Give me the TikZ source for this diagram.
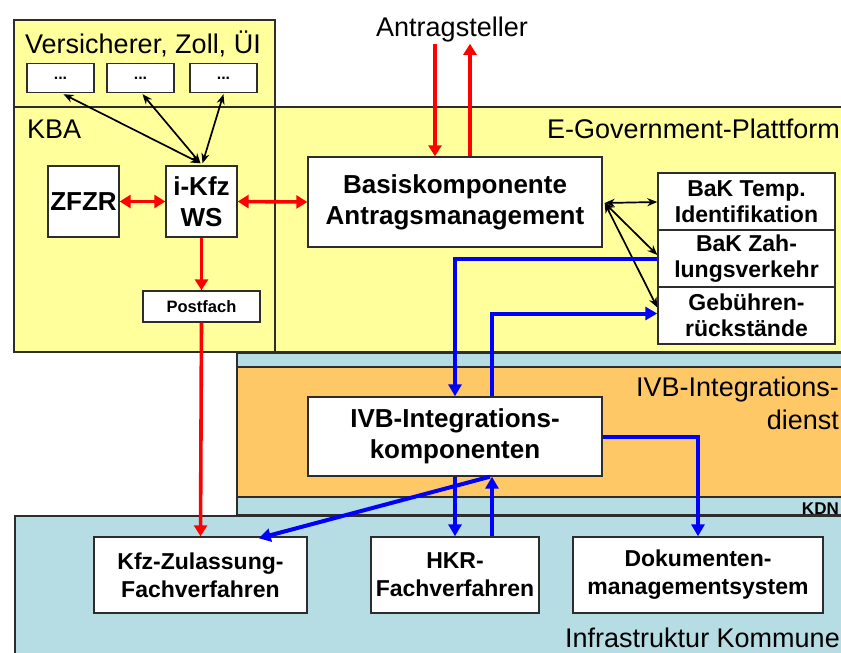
\documentclass[tikz,border=0pt]{standalone}
\usepackage{fontspec}
\setmainfont{Liberation Sans}
\usetikzlibrary{arrows.meta,calc}
\definecolor{ylw}{RGB}{255,255,155}
\definecolor{org}{RGB}{255,200,102}
\definecolor{tealbg}{RGB}{183,221,228}
\definecolor{edgec}{RGB}{45,45,45}
\newcommand{\myfs}[2]{\fontsize{#1}{#2}\selectfont}
\tikzset{
 layer/.style={draw=edgec, line width=1.4pt},
 lbl/.style={inner sep=0pt, font=\myfs{27}{32}},
 box/.style={draw=edgec, fill=white, line width=1.4pt, inner sep=0pt, align=center, font=\bfseries\myfs{26}{31}},
 bakbox/.style={box, minimum width=177pt, minimum height=57pt, font=\bfseries\myfs{23}{26}},
 lowbox/.style={box, minimum height=76pt, font=\bfseries\myfs{23}{28}},
 dotbox/.style={box, minimum width=67pt, minimum height=29pt, font=\bfseries\myfs{16}{18}},
 redarr/.style={draw=red, line width=3.6pt, -{Triangle[length=11pt,width=13pt]}},
 redboth/.style={draw=red, line width=3.6pt, {Triangle[length=11pt,width=13pt]}-{Triangle[length=11pt,width=13pt]}},
 bluearr/.style={draw=blue, line width=4pt, -{Triangle[length=12pt,width=13pt]}},
 blk/.style={draw=black, line width=1.7pt, {Stealth[length=10pt,width=8pt]}-{Stealth[length=10pt,width=8pt]}},
}
\begin{document}
\begin{tikzpicture}[x=1pt,y=-1pt]
\useasboundingbox (0,0) rectangle (841,653);
% layers
\draw[layer, fill=ylw] (14,20) rectangle (275,107);
\draw[layer, fill=ylw] (14,107) rectangle (275,352);
\draw[layer, fill=ylw] (275,107) rectangle (850,352);
\draw[layer, fill=tealbg] (237,353) rectangle (850,515);
\draw[layer, fill=org] (237,367) rectangle (850,497);
\draw[layer, fill=tealbg] (15,516) rectangle (850,665);
% labels
\node[lbl, anchor=base] (vlab) at (143,53) {Versicherer, Zoll, ÜI};
\node[lbl, anchor=base west] (kba) at (27,138) {KBA};
\node[lbl, anchor=base east] (egov) at (840,138) {E-Government-Plattform};
\node[lbl, anchor=base] (ant) at (452,36) {Antragsteller};
\node[lbl, anchor=base east] (ivbl1) at (839,396) {IVB-Integrations-};
\node[lbl, anchor=base east] (ivbl2) at (839,429) {dienst};
\node[lbl, anchor=base east, font=\bfseries\myfs{17}{20}] (kdn) at (839,514) {KDN};
\node[lbl, anchor=base east] (infra) at (840,647) {Infrastruktur Kommune};
% boxes
\node[dotbox] (v1) at (60.5,78) {...};
\node[dotbox] (v2) at (140.5,78) {...};
\node[dotbox] (v3) at (223.5,78) {...};
\node[box, minimum width=71pt, minimum height=71pt] (zfzr) at (83.5,201.5) {ZFZR};
\node[box, minimum width=71pt, minimum height=71pt] (ikfz) at (201.5,201.5) {i-Kfz\\WS};
\node[box, minimum width=117pt, minimum height=31pt, font=\bfseries\myfs{16.5}{19}] (post) at (201.5,306.5) {Postfach};
\node[box, minimum width=294pt, minimum height=90pt] (basis) at (455,202) {Basiskomponente\\Antragsmanagement};
\node[bakbox] (bak1) at (746.5,201.5) {BaK Temp.\\Identifikation};
\node[bakbox] (bak2) at (746.5,258.5) {BaK Zah-\\lungsverkehr};
\node[bakbox] (bak3) at (746.5,315.5) {Gebühren-\\rückstände};
\node[box, minimum width=294pt, minimum height=79pt] (ivb) at (455,436.5) {IVB-Integrations-\\komponenten};
\node[lowbox, minimum width=213pt] (kfz) at (200.5,575) {Kfz-Zulassung-\\Fachverfahren};
\node[lowbox, minimum width=168pt] (hkr) at (455,575) {HKR-\\Fachverfahren};
\node[lowbox, minimum width=250pt] (doku) at (698,575) {Dokumenten-\\managementsystem};
% red arrows
\draw[redarr] ($(ant.south)+(-17,2)$) -- ($(basis.north)+(-20,0)$);
\draw[redarr] ($(basis.north)+(15,0)$) -- ($(ant.south)+(18,2)$);
\draw[redboth] (zfzr.east) -- (ikfz.west);
\draw[redboth] (ikfz.east) -- (basis.west);
\draw[redarr] (ikfz.south) -- (post.north);
\draw[redarr] (post.south) -- (kfz.north);
% black arrows
\draw[blk] ($(ikfz.north)+(-1,-2)$) -- ($(v1.south)+(3,1)$);
\draw[blk] ($(ikfz.north)+(-1,-2)$) -- ($(v2.south)+(2,1)$);
\draw[blk] ($(ikfz.north)+(1,-2)$) -- ($(v3.south)+(0,1)$);
\draw[blk] ($(basis.east)+(2,1)$) -- ($(bak1.west)+(0,0.5)$);
\draw[blk] ($(basis.east)+(2,1)$) -- ($(bak2.west)+(0,-3.5)$);
\draw[blk] ($(basis.east)+(2,1)$) -- ($(bak3.west)+(0,-8)$);
% blue arrows
\draw[bluearr] (bak2.west) -| (ivb.north);
\draw[bluearr] ($(ivb.north)+(37,0)$) |- ($(bak3.west)+(0,-2)$);
\draw[bluearr] (ivb.east) -| (doku.north);
\draw[bluearr] (ivb.south) -- (hkr.north);
\draw[bluearr] ($(hkr.north)+(37,0)$) -- ($(ivb.south)+(37,0)$);
\draw[bluearr] ($(ivb.south)+(35,0)$) -- ($(kfz.north east)+(-49,2)$);
\end{tikzpicture}
\end{document}
